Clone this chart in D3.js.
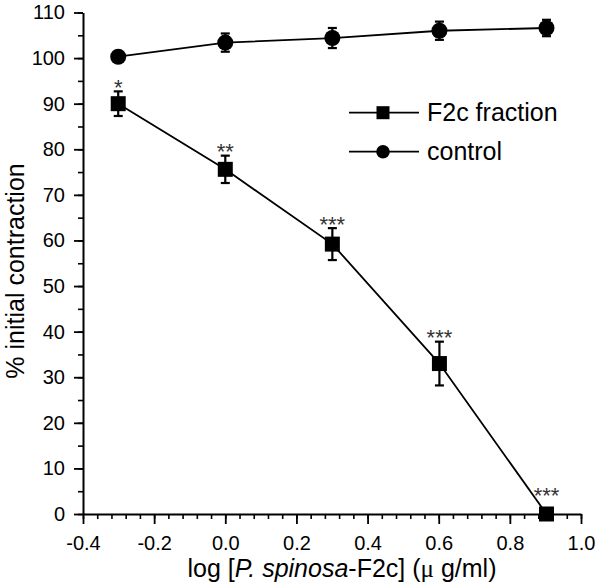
<!DOCTYPE html>
<html>
<head>
<meta charset="utf-8">
<script src="https://cdn.jsdelivr.net/npm/d3@7"></script>
<style>
  body { margin: 0; background: #fff; }
  svg { display: block; }
  text { font-family: "Liberation Sans", Arial, sans-serif; }
</style>
</head>
<body>
<svg id="chart" width="600" height="584"></svg>
<script>
// ---- data ----
const doses = [-0.301, 0.0, 0.301, 0.602, 0.903];   // log [P. spinosa-F2c] (µg/ml)
const f2cMean = [90.0, 75.6, 59.2, 33.0, 0.0];
const f2cErr  = [2.7, 3.0, 3.5, 4.8, 0.0];
const f2cSig  = ["*", "**", "***", "***", "***"];
const ctrlMean = [100.3, 103.4, 104.4, 106.0, 106.6];
const ctrlErr  = [0.5, 2.0, 2.2, 2.0, 1.8];
const xTicks = [-0.4, -0.2, 0.0, 0.2, 0.4, 0.6, 0.8, 1.0];
const yTicks = [0, 10, 20, 30, 40, 50, 60, 70, 80, 90, 100, 110];
const legendLabels = ["F2c fraction", "control"];

// ---- layout ----
const W = 600, H = 584;
const margin = { left: 83, right: 19, top: 12.5, bottom: 70 };
const svg = d3.select("#chart");

const x = d3.scaleLinear().domain([-0.4, 1.0]).range([margin.left, W - margin.right]);
const y = d3.scaleLinear().domain([0, 110]).range([H - margin.bottom, margin.top]);

// minor ticks
const xMinor = d3.range(-0.4, 1.0001, 0.04).map(v => +v.toFixed(2));
const yMinor = d3.range(0, 110.001, 5);

const gxMinor = svg.append("g")
  .attr("transform", `translate(0,${y(0)})`)
  .call(d3.axisBottom(x).tickValues(xMinor).tickSize(5).tickFormat(""));
const gyMinor = svg.append("g")
  .attr("transform", `translate(${x(-0.4)},0)`)
  .call(d3.axisLeft(y).tickValues(yMinor).tickSize(5).tickFormat(""));
[gxMinor, gyMinor].forEach(g => {
  g.select(".domain").remove();
  g.selectAll("line").attr("stroke", "#000").attr("stroke-width", 1.6);
});

const gx = svg.append("g")
  .attr("transform", `translate(0,${y(0)})`)
  .call(d3.axisBottom(x).tickValues(xTicks).tickSize(10).tickPadding(12)
        .tickFormat(d3.format(".1f")).tickSizeOuter(0));
const gy = svg.append("g")
  .attr("transform", `translate(${x(-0.4)},0)`)
  .call(d3.axisLeft(y).tickValues(yTicks).tickSize(9).tickPadding(9)
        .tickFormat(d3.format("d")).tickSizeOuter(0));
[gx, gy].forEach(g => {
  g.select(".domain").attr("stroke", "#000").attr("stroke-width", 2);
  g.selectAll(".tick line").attr("stroke", "#000").attr("stroke-width", 1.8);
  g.selectAll(".tick text").attr("fill", "#000").style("font-size", "20px")
    .style("font-family", '"Liberation Sans", Arial, sans-serif');
});
gx.selectAll(".tick text").text(d => d3.format(".1f")(d).replace("−", "-"));

// axis titles
const xt = svg.append("text")
  .attr("x", (x(-0.4) + x(1.0)) / 2 + 10)
  .attr("y", 577)
  .attr("text-anchor", "middle")
  .style("font-size", "25px");
xt.append("tspan").text("log [");
xt.append("tspan").style("font-style", "italic").text("P. spinosa");
xt.append("tspan").text("-F2c] (");
xt.append("tspan").style("font-family", '"Liberation Serif", "DejaVu Serif", serif').text("μ");
xt.append("tspan").text(" g/ml)");

svg.append("text")
  .attr("transform", `translate(24,${271}) rotate(-90)`)
  .attr("text-anchor", "middle")
  .style("font-size", "25px")
  .text("% initial contraction");

// ---- series ----
const line = d3.line().x(d => x(d[0])).y(d => y(d[1]));
const f2c = doses.map((d, i) => ({ x: d, m: f2cMean[i], e: f2cErr[i], s: f2cSig[i] }));
const ctrl = doses.map((d, i) => ({ x: d, m: ctrlMean[i], e: ctrlErr[i] }));

function errorBars(data) {
  const g = svg.append("g").attr("stroke", "#000").attr("stroke-width", 2.2);
  data.filter(d => d.e > 0).forEach(d => {
    g.append("line").attr("x1", x(d.x)).attr("x2", x(d.x))
      .attr("y1", y(d.m - d.e)).attr("y2", y(d.m + d.e));
    [d.m - d.e, d.m + d.e].forEach(v => {
      g.append("line").attr("x1", x(d.x) - 4.5).attr("x2", x(d.x) + 4.5)
        .attr("y1", y(v)).attr("y2", y(v));
    });
  });
}

errorBars(ctrl);
errorBars(f2c);

svg.append("path").datum(ctrl.map(d => [d.x, d.m]))
  .attr("d", line).attr("fill", "none").attr("stroke", "#000").attr("stroke-width", 1.8);
svg.append("path").datum(f2c.map(d => [d.x, d.m]))
  .attr("d", line).attr("fill", "none").attr("stroke", "#000").attr("stroke-width", 1.8);

svg.append("g").selectAll("circle").data(ctrl).join("circle")
  .attr("cx", d => x(d.x)).attr("cy", d => y(d.m)).attr("r", 8).attr("fill", "#000");

const sq = 15;
svg.append("g").selectAll("rect").data(f2c).join("rect")
  .attr("x", d => x(d.x) - sq / 2).attr("y", d => y(d.m) - sq / 2)
  .attr("width", sq).attr("height", sq).attr("fill", "#000");

// significance stars
svg.append("g").selectAll("text").data(f2c).join("text")
  .attr("x", d => x(d.x))
  .attr("y", d => (d.e > 0 ? y(d.m + d.e) : y(d.m) - sq / 2 - 7) + 3.5)
  .attr("text-anchor", "middle")
  .attr("fill", "#333")
  .style("font-size", "22px")
  .text(d => d.s);

// ---- legend ----
const lg = svg.append("g");
const legendY = [112.7, 151.7];
legendLabels.forEach((lab, i) => {
  const ly = legendY[i];
  lg.append("line").attr("x1", 349).attr("x2", 419).attr("y1", ly).attr("y2", ly)
    .attr("stroke", "#000").attr("stroke-width", 1.8);
  if (i === 0) {
    lg.append("rect").attr("x", 383 - 6.5).attr("y", ly - 6.5).attr("width", 13).attr("height", 13).attr("fill", "#000");
  } else {
    lg.append("circle").attr("cx", 383).attr("cy", ly).attr("r", 6.8).attr("fill", "#000");
  }
  lg.append("text").attr("x", 427).attr("y", ly).attr("dy", "0.35em")
    .style("font-size", "25px").text(lab);
});
</script>
</body>
</html>
